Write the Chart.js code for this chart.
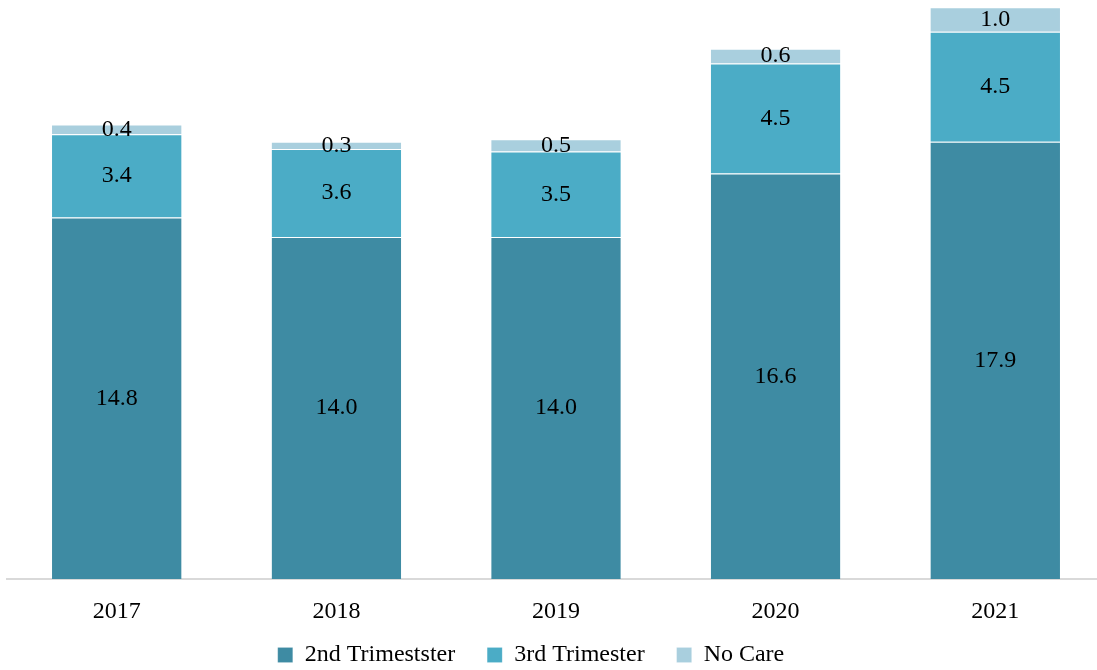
<!DOCTYPE html>
<html>
<head>
<meta charset="utf-8">
<script src="https://cdn.jsdelivr.net/npm/chart.js@4"></script>
<style>
  html, body { margin: 0; padding: 0; background: #fff; overflow: hidden; }
  #clip { width: 1097px; height: 670px; overflow: hidden; position: relative; }
  #wrap { width: 1105px; height: 670px; position: absolute; left: 0; top: 0; }
</style>
</head>
<body>
<div id="clip"><div id="wrap"><canvas id="myChart"></canvas></div></div>
<script>
const years = ['2017', '2018', '2019', '2020', '2021'];
const second = [14.8, 14.0, 14.0, 16.6, 17.9];
const third = [3.4, 3.6, 3.5, 4.5, 4.5];
const noCare = [0.4, 0.3, 0.5, 0.6, 1.0];

const serif = "'Liberation Serif', 'Times New Roman', serif";

// labels in the middle of every segment
const valueLabels = {
    id: 'valueLabels',
    afterDatasetsDraw(chart) {
        const ctx = chart.ctx;
        ctx.save();
        ctx.font = '24px ' + serif;
        ctx.fillStyle = '#000';
        ctx.textAlign = 'center';
        ctx.textBaseline = 'middle';
        chart.data.datasets.forEach((ds, i) => {
            chart.getDatasetMeta(i).data.forEach((bar, j) => {
                ctx.fillText(ds.data[j].toFixed(1), bar.x, (bar.y + bar.base) / 2);
            });
        });
        ctx.restore();
    }
};

// move the legend up and left (bottom kept so the text isn't clipped)
const legendShift = {
    id: 'legendShift',
    afterLayout(chart) {
        const l = chart.legend;
        l.top -= 16;
        l.left -= 25; l.right -= 25;
    }
};

const data = {
    labels: years,
    datasets: [
        { label: '2nd Trimestster', data: second, backgroundColor: '#3E8BA3' },
        { label: '3rd Trimester', data: third, backgroundColor: '#4BACC6' },
        { label: 'No Care', data: noCare, backgroundColor: '#A9CFDE' }
    ]
};

const config = {
    type: 'bar',
    data: data,
    options: {
        responsive: true,
        maintainAspectRatio: false,
        animation: false,
        layout: { padding: { left: 7, right: 0, top: 0, bottom: 0 } },
        datasets: {
            bar: {
                categoryPercentage: 0.59,
                barPercentage: 1,
                borderColor: 'rgba(255,255,255,0.6)',
                borderWidth: { top: 1, bottom: 0, left: 0, right: 0 },
                borderSkipped: false
            }
        },
        scales: {
            x: {
                stacked: true,
                grid: { display: false, drawTicks: false },
                border: { display: true, color: '#D9D9D9', width: 2 },
                ticks: { color: '#000', padding: 18.6, font: { family: serif, size: 24 } },
                afterFit(scale) { scale.height = 48; }
            },
            y: {
                stacked: true,
                display: false,
                min: 0,
                max: 23.7
            }
        },
        plugins: {
            tooltip: { enabled: false },
            legend: {
                position: 'bottom',
                maxHeight: 43,
                labels: {
                    color: '#000',
                    boxWidth: 15,
                    boxHeight: 15,
                    padding: 32,
                    font: { family: serif, size: 24 }
                }
            }
        }
    },
    plugins: [valueLabels, legendShift]
};

const myChart = new Chart(
    document.getElementById('myChart'),
    config
);
</script>
</body>
</html>
